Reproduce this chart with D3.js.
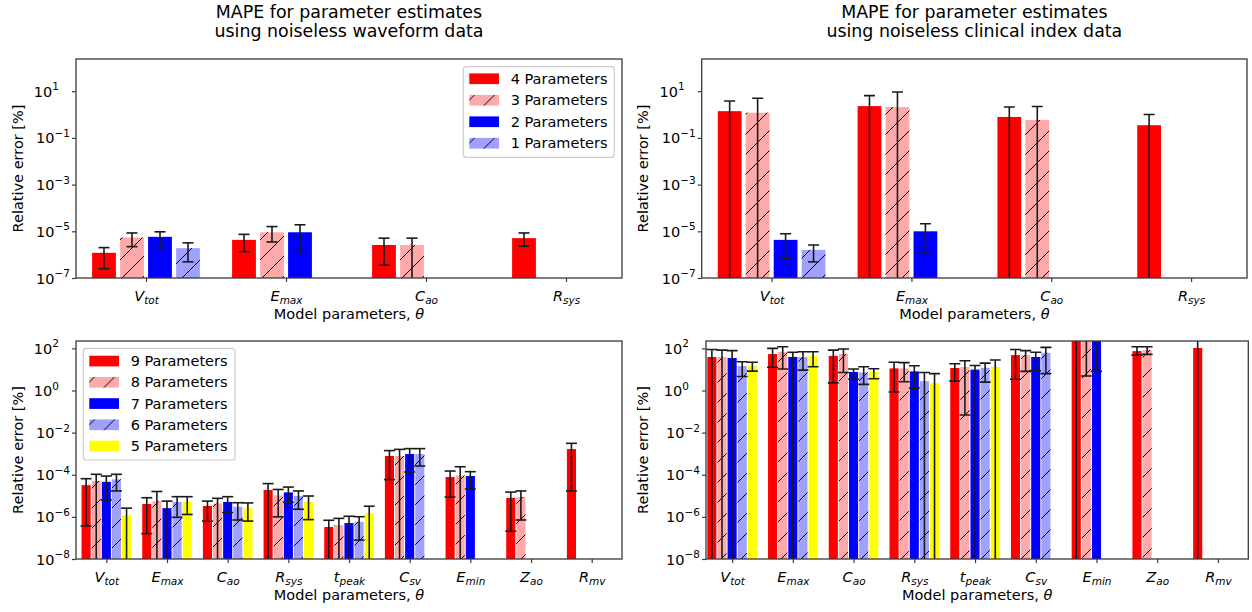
<!DOCTYPE html>
<html>
<head>
<meta charset="utf-8">
<script src="https://cdn.jsdelivr.net/npm/d3@7"></script>
<style>
  body { margin: 0; background: #fff; }
  svg text { font-family: "DejaVu Sans", sans-serif; fill: #000; }
</style>
</head>
<body>
<svg id="chart" width="1252" height="612"></svg>
<script>
// categories (symbol, subscript)
const catsTop = [["V", "tot"], ["E", "max"], ["C", "ao"], ["R", "sys"]];
const catsBottom = [["V", "tot"], ["E", "max"], ["C", "ao"], ["R", "sys"], ["t", "peak"],
  ["C", "sv"], ["E", "min"], ["Z", "ao"], ["R", "mv"]];
const seriesTop = ["4 Parameters", "3 Parameters", "2 Parameters", "1 Parameters"];
const seriesBottom = ["9 Parameters", "8 Parameters", "7 Parameters", "6 Parameters", "5 Parameters"];

// MAPE values, rows = series, cols = categories. lo = 0 means lower bar end below zero
const waveTopVal = [
  [1.2e-6, 4.3e-6, 2.6e-6, 5.1e-6],
  [5.4e-6, 9.1e-6, 2.6e-6, null],
  [5.8e-6, 9.1e-6, null, null],
  [1.9e-6, null, null, null]];
const waveTopLo = [
  [2.5e-7, 1.35e-6, 3.6e-7, 2.3e-6],
  [2.2e-6, 3.5e-6, 0, null],
  [1.7e-6, 1.35e-6, null, null],
  [4.9e-7, null, null, null]];
const waveTopHi = [
  [2.0e-6, 7.4e-6, 5.1e-6, 8.5e-6],
  [8.5e-6, 1.6e-5, 5.1e-6, null],
  [9.5e-6, 1.9e-5, null, null],
  [3.2e-6, null, null, null]];

const clinTopVal = [
  [1.4, 2.3, 0.79, 0.35],
  [1.2, 2.1, 0.59, null],
  [4.3e-6, 1.0e-5, null, null],
  [1.6e-6, null, null, null]];
const clinTopLo = [
  [0, 0, 0, 0],
  [0, 0, 0, null],
  [6.9e-7, 1.3e-6, null, null],
  [4.9e-7, null, null, null]];
const clinTopHi = [
  [3.8, 6.5, 2.1, 1.0],
  [5.0, 9.3, 2.2, null],
  [7.9e-6, 2.1e-5, null, null],
  [2.6e-6, null, null, null]];

const waveBotVal = [
  [3.2e-5, 4.1e-6, 3.3e-6, 1.9e-5, 3.3e-7, 7.8e-4, 7.8e-5, 7.9e-6, 1.66e-3],
  [5.0e-5, 5.5e-6, 4.3e-6, 1.05e-5, 4.1e-7, 7.8e-4, 9.3e-5, 8.7e-6, null],
  [4.6e-5, 2.6e-6, 5.1e-6, 1.45e-5, 5.1e-7, 9.6e-4, 8.7e-5, null, null],
  [6.0e-5, 5.1e-6, 3.0e-6, 9.8e-6, 5.8e-7, 9.6e-4, null, null, null],
  [1.2e-6, 5.1e-6, 2.6e-6, 5.1e-6, 1.5e-6, null, null, null, null]];
const waveBotLo = [
  [3.7e-7, 1.6e-7, 6.3e-7, 0, 0, 5.9e-5, 8.7e-6, 2.1e-7, 1.7e-5],
  [0, 0, 0, 1.0e-6, 0, 0, 0, 7.1e-7, null],
  [6.3e-6, 0, 1.6e-6, 4.9e-6, 0, 1.35e-4, 2.1e-5, null, null],
  [1.7e-5, 9.5e-7, 7.1e-7, 2.3e-6, 7.9e-8, 2.6e-4, null, null, null],
  [0, 1.3e-6, 6.3e-7, 7.4e-7, 0, null, null, null, null]];
const waveBotHi = [
  [6.5e-5, 8.1e-6, 5.6e-6, 3.8e-5, 6.9e-7, 1.4e-3, 1.5e-4, 1.5e-5, 3.1e-3],
  [1.05e-4, 1.6e-5, 7.6e-6, 2.0e-5, 8.5e-7, 1.6e-3, 2.4e-4, 1.7e-5, null],
  [8.7e-5, 5.6e-6, 9.1e-6, 2.6e-5, 1.07e-6, 1.74e-3, 1.4e-4, null, null],
  [1.05e-4, 9.1e-6, 4.7e-6, 1.7e-5, 1.02e-6, 1.74e-3, null, null, null],
  [2.6e-6, 9.1e-6, 4.6e-6, 9.8e-6, 3.2e-6, null, null, null, null]];

const clinBotVal = [
  [39, 54, 44, 11.2, 11.7, 48, 1000, 74, 104],
  [39, 68, 54, 11.2, 13, 48, 800, 83, null],
  [35, 39, 7.6, 8.1, 9.8, 39, 600, null, null],
  [14.5, 39, 7.2, 2.8, 12, 61, null, null, null],
  [14.5, 44, 7.6, 2.2, 13, null, null, null, null]];
const clinBotLo = [
  [0, 12.6, 2.3, 0.85, 2.8, 3.4, 0, 48, 0],
  [0, 10.5, 7.2, 2.6, 0.069, 8.1, 4.9, 52, null],
  [0, 0, 3.4, 1.3, 0, 8.7, 8.1, null, null],
  [4.6, 9.3, 1.95, 0, 2.5, 6.3, null, null, null],
  [8.3, 13.5, 3.6, 0, 0, null, null, null, null]];
const clinBotHi = [
  [89, 100, 83, 22, 18.6, 89, 2000, 120, 1000],
  [83, 120, 93, 21, 26, 78, 2000, 120, null],
  [78, 65, 10.5, 15, 15.5, 65, 2000, null, null],
  [23, 69, 13.5, 7.1, 20, 112, null, null, null],
  [22, 69, 10.7, 6.3, 28, null, null, null, null]];

const ticksTop = [1e-7, 1e-5, 1e-3, 1e-1, 1e1];
const ticksBottom = [1e-8, 1e-6, 1e-4, 1e-2, 1e0, 1e2];

// styles
const colors = ["#ff0000", "#ffaaaa", "#0000ff", "#a0a0ff", "#ffff00"];
const hatched = [false, true, false, true, false];

const svg = d3.select("#chart");
const defs = svg.append("defs");
defs.append("pattern")
  .attr("id", "hatch")
  .attr("patternUnits", "userSpaceOnUse")
  .attr("width", 20).attr("height", 20)
  .append("path")
  .attr("d", "M-5,5 L5,-5 M0,20 L20,0 M15,25 L25,15")
  .attr("stroke", "#000").attr("stroke-width", 1).attr("fill", "none");

const FS = 14.5;

function drawPanel(p) {
  const x = d3.scaleLinear().domain(p.xDomain).range([p.left, p.right]);
  const y = d3.scaleLog().domain(p.yDomain).range([p.bottom, p.top]);
  const nS = p.series.length;
  const clipId = "clip" + p.id;
  defs.append("clipPath").attr("id", clipId)
    .append("rect").attr("x", p.left).attr("y", p.top)
    .attr("width", p.right - p.left).attr("height", p.bottom - p.top);

  const g = svg.append("g");
  const plot = g.append("g").attr("clip-path", `url(#${clipId})`);

  // bars
  const bars = [];
  p.vals.forEach((row, s) => row.forEach((v, c) => {
    if (v == null) return;
    const cx = x(c + (s - (nS - 1) / 2) * p.slot);
    bars.push({ s, c, v, cx, lo: p.lo[s][c], hi: p.hi[s][c] });
  }));
  const hw = (x(p.barW) - x(0)) / 2;
  plot.selectAll("rect.bar").data(bars).enter().append("rect")
    .attr("class", "bar")
    .attr("x", d => d.cx - hw).attr("width", hw * 2)
    .attr("y", d => y(d.v)).attr("height", d => p.bottom - y(d.v))
    .attr("fill", d => colors[d.s]);
  plot.selectAll("rect.hatch").data(bars.filter(d => hatched[d.s])).enter().append("rect")
    .attr("class", "hatch")
    .attr("x", d => d.cx - hw).attr("width", hw * 2)
    .attr("y", d => y(d.v)).attr("height", d => p.bottom - y(d.v))
    .attr("fill", "url(#hatch)");

  // error bars
  const eb = plot.selectAll("g.err").data(bars).enter().append("g")
    .attr("class", "err").attr("stroke", "#1a1a1a").attr("stroke-width", 1.6);
  const cap = 5.5;
  eb.append("line")
    .attr("x1", d => d.cx).attr("x2", d => d.cx)
    .attr("y1", d => y(d.hi))
    .attr("y2", d => d.lo > 0 ? y(d.lo) : p.bottom + 2);
  eb.append("line")
    .attr("x1", d => d.cx - cap).attr("x2", d => d.cx + cap)
    .attr("y1", d => y(d.hi)).attr("y2", d => y(d.hi));
  eb.filter(d => d.lo > 0).append("line")
    .attr("x1", d => d.cx - cap).attr("x2", d => d.cx + cap)
    .attr("y1", d => y(d.lo)).attr("y2", d => y(d.lo));

  // frame
  g.append("rect").attr("x", p.left).attr("y", p.top)
    .attr("width", p.right - p.left).attr("height", p.bottom - p.top)
    .attr("fill", "none").attr("stroke", "#3a3a3a").attr("stroke-width", 1.3);

  // x axis
  const xa = g.append("g").attr("transform", `translate(0,${p.bottom})`)
    .call(d3.axisBottom(x).tickValues(d3.range(p.cats.length)).tickSize(4).tickSizeOuter(0).tickFormat(""));
  xa.select(".domain").remove();
  xa.selectAll(".tick line").attr("stroke", "#3a3a3a").attr("stroke-width", 1.2);
  xa.selectAll(".tick text").remove();
  xa.selectAll(".tick").append("text")
    .attr("y", 22.5).attr("text-anchor", "middle").style("font-size", FS + "px")
    .each(function (d) {
      const t = d3.select(this);
      t.append("tspan").attr("font-style", "italic").text(p.cats[d][0]);
      t.append("tspan").attr("font-style", "italic").attr("dy", 3.5)
        .style("font-size", "10.5px").text(p.cats[d][1]);
    });

  // y axis
  const ya = g.append("g").attr("transform", `translate(${p.left},0)`)
    .call(d3.axisLeft(y).tickValues(p.ticks).tickSize(4).tickSizeOuter(0).tickFormat(""));
  ya.select(".domain").remove();
  ya.selectAll(".tick line").attr("stroke", "#3a3a3a").attr("stroke-width", 1.2);
  ya.selectAll(".tick text").remove();
  ya.selectAll(".tick").append("text")
    .attr("x", d => Math.round(Math.log10(d)) >= 0 ? -17 : -6)
    .attr("dy", "0.35em").attr("text-anchor", "end").style("font-size", FS + "px")
    .each(function (d) {
      const e = Math.round(Math.log10(d));
      const t = d3.select(this);
      t.append("tspan").text("10");
      t.append("tspan").attr("dy", -6.5).style("font-size", "10.5px")
        .text(e < 0 ? "\u2212" + (-e) : String(e));
    });

  // axis labels
  const cx = (p.left + p.right) / 2;
  const xl = g.append("text").attr("x", cx).attr("y", p.bottom + 41)
    .attr("text-anchor", "middle").style("font-size", FS + "px");
  xl.append("tspan").text("Model parameters, ");
  xl.append("tspan").attr("font-style", "italic").text("\u03b8");
  g.append("text")
    .attr("transform", `translate(${p.yLabelX},${(p.top + p.bottom) / 2}) rotate(-90)`)
    .attr("text-anchor", "middle").attr("dy", "0.35em").style("font-size", FS + "px")
    .text("Relative error [%]");

  // title
  if (p.title) {
    p.title.forEach((line, i) => {
      g.append("text").attr("x", cx).attr("y", 18.3 + i * 18.2)
        .attr("text-anchor", "middle").style("font-size", "17.4px").text(line);
    });
  }

  // legend
  if (p.legend) {
    const L = p.legend;
    const lg = g.append("g");
    lg.append("rect").attr("x", L.x).attr("y", L.y).attr("width", L.w).attr("height", L.h)
      .attr("rx", 3).attr("fill", "#fff").attr("fill-opacity", 0.8)
      .attr("stroke", "#cccccc").attr("stroke-width", 1.2);
    const items = lg.selectAll("g.item").data(p.series).enter().append("g")
      .attr("transform", (d, i) => `translate(${L.x + 6},${L.y + L.first + i * L.step})`);
    items.append("rect").attr("x", 0).attr("y", -5.3).attr("width", 29.7).attr("height", 10.7)
      .attr("fill", (d, i) => colors[i]);
    items.filter((d, i) => hatched[i]).append("rect")
      .attr("x", 0).attr("y", -5.3).attr("width", 29.7).attr("height", 10.7)
      .attr("fill", "url(#hatch)")
      .attr("transform", null);
    items.append("text").attr("x", 41.4).attr("dy", "0.36em")
      .style("font-size", FS + "px").text(d => d);
  }
}

drawPanel({
  id: 1, left: 76, right: 622, top: 59, bottom: 278,
  xDomain: [-0.5, 3.4], yDomain: [1e-7, Math.pow(10, 2.38)],
  slot: 0.2, barW: 0.17, cats: catsTop, series: seriesTop,
  vals: waveTopVal, lo: waveTopLo, hi: waveTopHi, ticks: ticksTop, yLabelX: 18.3,
  title: ["MAPE for parameter estimates", "using noiseless waveform data"],
  legend: { x: 463.3, y: 66.7, w: 151, h: 90.6, first: 12, step: 21.5 }
});
drawPanel({
  id: 2, left: 701.7, right: 1247, top: 59, bottom: 278,
  xDomain: [-0.5, 3.4], yDomain: [1e-7, Math.pow(10, 2.38)],
  slot: 0.2, barW: 0.17, cats: catsTop, series: seriesTop,
  vals: clinTopVal, lo: clinTopLo, hi: clinTopHi, ticks: ticksTop, yLabelX: 643.3,
  title: ["MAPE for parameter estimates", "using noiseless clinical index data"]
});
drawPanel({
  id: 3, left: 76, right: 622, top: 341, bottom: 559,
  xDomain: [-0.5, 8.5], yDomain: [1e-8, Math.pow(10, 2.35)],
  slot: 1 / 6, barW: 0.15, cats: catsBottom, series: seriesBottom,
  vals: waveBotVal, lo: waveBotLo, hi: waveBotHi, ticks: ticksBottom, yLabelX: 18.3,
  legend: { x: 83.3, y: 348.3, w: 151.7, h: 111.7, first: 12.7, step: 21.25 }
});
drawPanel({
  id: 4, left: 706, right: 1248.3, top: 341, bottom: 559,
  xDomain: [-0.43, 8.5], yDomain: [1e-8, Math.pow(10, 2.35)],
  slot: 1 / 6, barW: 0.15, cats: catsBottom, series: seriesBottom,
  vals: clinBotVal, lo: clinBotLo, hi: clinBotHi, ticks: ticksBottom, yLabelX: 643.3
});
</script>
</body>
</html>
